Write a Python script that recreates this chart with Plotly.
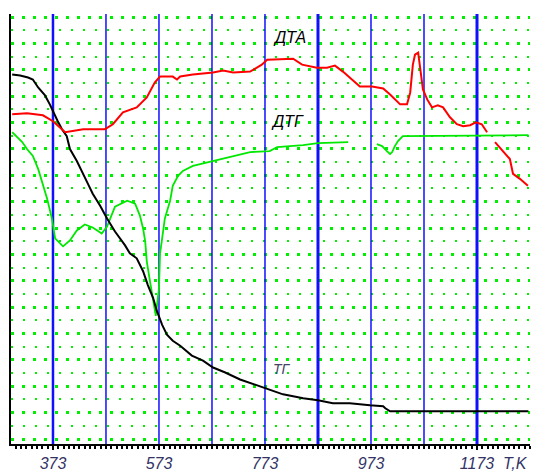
import plotly.graph_objects as go

# Temperature (K) and signal (arbitrary units)
tg_T = [296, 311, 326, 335, 345, 358, 367, 375, 382, 390, 399, 405, 418, 439, 448, 462, 475, 490,
        509, 518, 531, 543, 552, 562, 569, 579, 588, 599, 613, 635, 656, 675, 698, 726, 758, 777,
        807, 845, 873, 901, 933, 971, 996, 1000, 1009, 1270]
tg_v = [372, 371, 369, 367, 359, 351, 342, 332, 325, 317, 310, 297, 285, 262, 252, 240, 227, 214,
        200, 192, 187, 174, 160, 147, 134, 120, 110, 104, 99, 89, 84, 77, 72, 65, 59, 55,
        50, 46, 44, 41, 41, 39, 38, 36, 33, 33]

dta_T = [296, 324, 354, 373, 396, 430, 471, 486, 505, 531, 550, 565, 575, 599, 607, 613, 637, 675,
         694, 713, 745, 767, 777, 826, 843, 871, 890, 905, 920, 933, 943, 952, 975, 996, 1009,
         1028, 1041, 1047, 1052, 1056, 1062, 1065, 1071, 1079, 1088, 1099, 1109, 1122, 1135, 1147,
         1160, 1171, 1182, 1192, 1199, 1207, 1222, 1235, 1241, 1254, 1269]
dta_v = [332, 333, 331, 325, 314, 317, 317, 322, 334, 339, 349, 364, 370, 370, 367, 370, 372, 374,
         376, 374, 375, 382, 387, 388, 382, 379, 379, 381, 375, 369, 364, 360, 360, 358, 352,
         342, 342, 354, 382, 392, 394, 380, 357, 347, 339, 341, 339, 329, 322, 320,
         321, 324, 322, 314, None, 304, 295, 287, 272, 267, 260]

dtg_T = [296, 315, 324, 335, 345, 352, 362, 371, 377, 392, 405, 418, 433, 448, 465, 475, 490, 513,
         528, 537, 543, 547, 550, 556, 562, 567, 573, 575, 579, 584, 594, 599, 609, 618, 637, 675,
         694, 720, 745, 782, 796, 820, 845, 873, 930, 960, 984, 994, 1003, 1009, 1013, 1018, 1024,
         1033, 1270]
dtg_v = [314, 304, 297, 290, 277, 264, 247, 227, 207, 199, 205, 215, 221, 218, 212, 219, 239, 245,
         242, 230, 217, 204, 184, 164, 144, 129, 157, 192, 207, 227, 245, 260, 270, 275, 280, 285,
         287, 291, 294, 295, 299, 300, 301, 303, 304, None, 302, 300, 295, 292, 294, 300, 305,
         310, 311]

tick_vals = [373, 573, 773, 973, 1173]
tick_text = ["373", "573", "773", "973", "1173"]
blue_lines = [373, 473, 573, 673, 773, 873, 973, 1073, 1173]
blue_widths = [2.5, 1.5, 1.5, 1.5, 1.5, 3, 1.5, 1.5, 3]
y_min, y_max = 0, 433

labels = ["ДТА", "ДТГ", "ТГ"]
label_T = [820, 815, 805]
label_v = [409, 325, 76]

fig = go.Figure()
for xv, w in zip(blue_lines, blue_widths):
    fig.add_trace(go.Scatter(x=[xv, xv], y=[y_min, y_max], mode="lines",
                             line=dict(color="#1010ff", width=w), showlegend=False,
                             hoverinfo="skip"))

fig.add_trace(go.Scatter(x=dtg_T, y=dtg_v, mode="lines", line=dict(color="#00e800", width=1.8),
                         connectgaps=False, showlegend=False))
fig.add_trace(go.Scatter(x=tg_T, y=tg_v, mode="lines", line=dict(color="black", width=2),
                         showlegend=False))
fig.add_trace(go.Scatter(x=dta_T, y=dta_v, mode="lines", line=dict(color="#ff0000", width=2),
                         connectgaps=False, showlegend=False))

for t, xv, yv in zip(labels, label_T, label_v):
    fig.add_annotation(x=xv, y=yv, text="<i>%s</i>" % t, showarrow=False,
                       font=dict(family="Liberation Sans", size=16 if t != "ТГ" else 14,
                                 color="black" if t != "ТГ" else "#444466"))

fig.add_annotation(xref="paper", yref="paper", x=1.0, y=-0.02, xanchor="right", yanchor="top",
                   text="<i>T,K</i>", showarrow=False,
                   font=dict(family="Liberation Sans", size=16, color="#333366"))

fig.update_layout(
    width=534, height=476,
    margin=dict(l=11, r=4, t=14, b=29),
    paper_bgcolor="white", plot_bgcolor="white",
    xaxis=dict(range=[293.8, 1273], showgrid=False, zeroline=False,
               showline=True, linecolor="black", linewidth=2,
               tickmode="array", tickvals=tick_vals,
               ticktext=["<i>%s</i>" % s for s in tick_text],
               ticks="outside", ticklen=4, tickwidth=1.5, tickcolor="black",
               tickfont=dict(family="Liberation Sans", size=16, color="#333366"),
               minor=dict(dtick=10, tick0=373, ticks="outside", ticklen=3, tickcolor="black",
                          showgrid=False)),
    yaxis=dict(range=[y_min, y_max], showticklabels=False, ticks="", zeroline=False,
               showline=True, linecolor="black", linewidth=1.5,
               tick0=5, dtick=26.56, showgrid=True, gridcolor="#00ee00", gridwidth=2.5,
               griddash="3px,8px",
               minor=dict(tick0=5, dtick=13.28, showgrid=True, gridcolor="#00ee00",
                          gridwidth=2, griddash="2px,10px")),
)
fig.write_html("out.html")
